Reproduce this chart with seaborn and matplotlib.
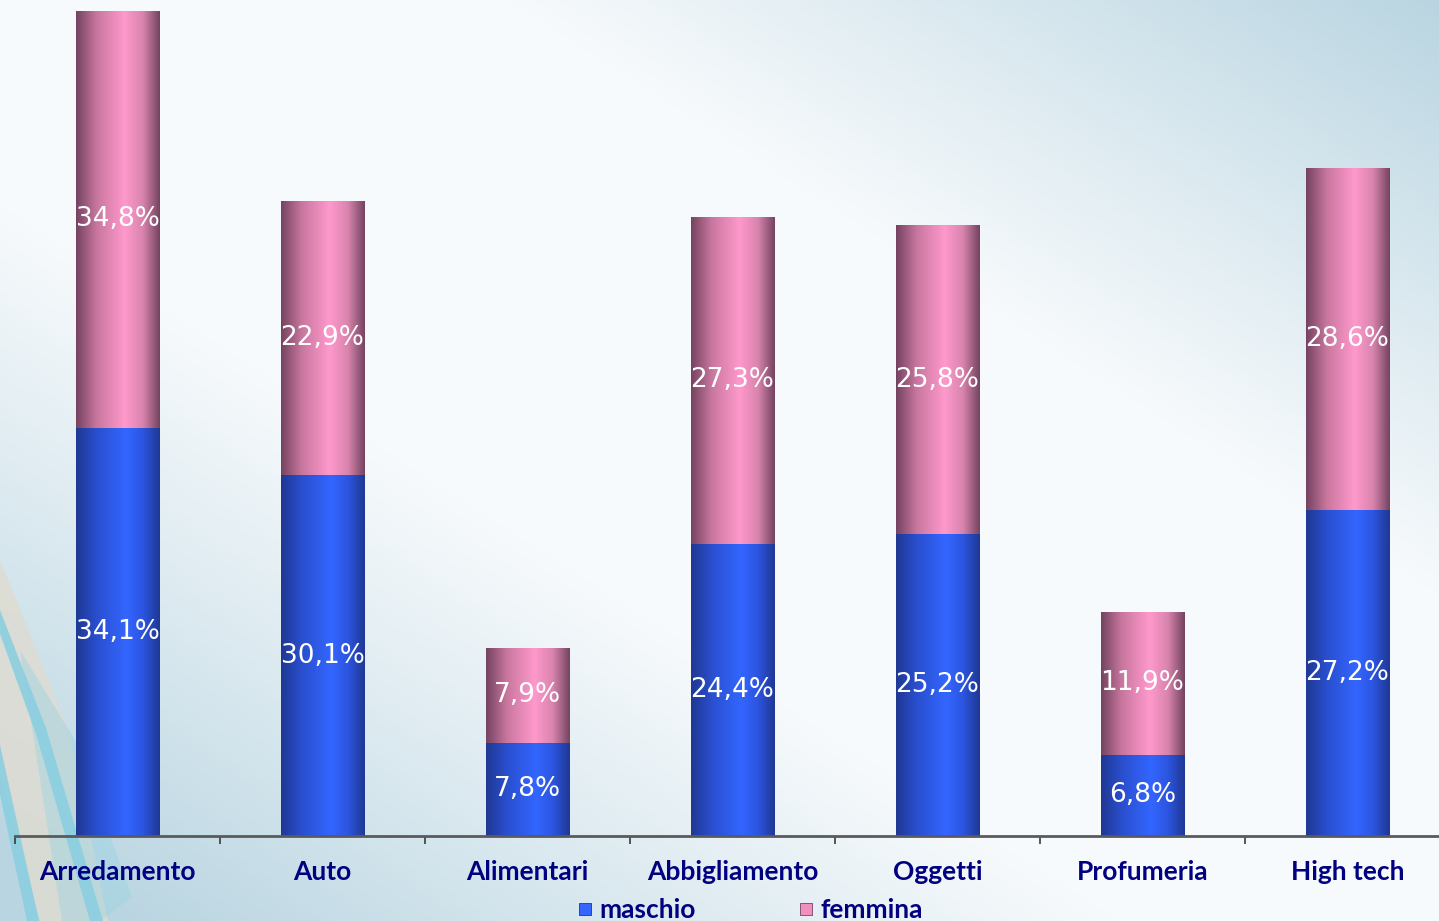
import numpy as np
import pandas as pd
import matplotlib
matplotlib.use("Agg")
import matplotlib.pyplot as plt
import seaborn as sns
from matplotlib.colors import LinearSegmentedColormap
from matplotlib.patches import Polygon
from matplotlib.lines import Line2D

categories = ["Arredamento", "Auto", "Alimentari", "Abbigliamento", "Oggetti", "Profumeria", "High tech"]
maschio = [34.1, 30.1, 7.8, 24.4, 25.2, 6.8, 27.2]
femmina = [34.8, 22.9, 7.9, 27.3, 25.8, 11.9, 28.6]
series_names = ["maschio", "femmina"]

sns.set_theme(style="white")
plt.rcParams['font.family'] = ['Lato', 'DejaVu Sans']

W, H, DPI = 1439, 921, 100
fig = plt.figure(figsize=(W / DPI, H / DPI), dpi=DPI)

# ---- background gradient (pixel coordinates, y down) ----
bg = fig.add_axes([0, 0, 1, 1], zorder=0)
py, px = np.mgrid[0:H:4, 0:W:4]
s = px / W + (1 - py / H)          # 0 bottom-left, 2 top-right
val = np.where(s > 1.35, (s - 1.35) / 0.65, 0.0)
val = np.maximum(val, np.where(s < 0.78, (0.78 - s) / 0.7, 0.0))
val = np.clip(val, 0, 1)
bg_cmap = LinearSegmentedColormap.from_list("bg", ["#f7fafc", "#d9e8ef", "#b9d5e1"])
bg.imshow(val, cmap=bg_cmap, extent=[0, W, H, 0], aspect="auto", vmin=0, vmax=1,
          interpolation="bilinear")
shapes = [
    ([(0, 560), (70, 735), (108, 921), (40, 921), (0, 770)], "#dedcd2", 0.85),
    ([(20, 650), (75, 740), (132, 897), (100, 921), (62, 921)], "#9bd3e3", 0.45),
    ([(0, 610), (46, 728), (103, 921), (90, 921), (36, 734), (0, 634)], "#8ccfe0", 0.9),
    ([(0, 745), (39, 921), (27, 921), (0, 795)], "#8ccfe0", 0.9),
]
for pts, col, a in shapes:
    bg.add_patch(Polygon(pts, closed=True, facecolor=col, alpha=a, edgecolor="none"))
bg.set_xlim(0, W)
bg.set_ylim(H, 0)
bg.axis("off")

# ---- main axes ----
ax = fig.add_axes([15 / W, 1 - 836 / H, (1450 - 15) / W, 836 / H], zorder=1)
ax.patch.set_alpha(0)

df = pd.DataFrame({"cat": categories, "maschio": maschio, "femmina": femmina})
df["total"] = df["maschio"] + df["femmina"]

sns.barplot(data=df, x="cat", y="total", color="#ff99cc", width=0.405, ax=ax, saturation=1, edgecolor="none")
sns.barplot(data=df, x="cat", y="maschio", color="#3366ff", width=0.405, ax=ax, saturation=1, edgecolor="none")

blue_cmap = LinearSegmentedColormap.from_list(
    "b", [(0, "#1f3892"), (0.25, "#2a4fcf"), (0.6, "#3366ff"), (0.8, "#2c55e0"), (1, "#1f3892")])
pink_cmap = LinearSegmentedColormap.from_list(
    "p", [(0, "#744360"), (0.25, "#c9779f"), (0.58, "#ff99cc"), (0.8, "#d884ad"), (1, "#744360")])
grad = np.linspace(0, 1, 256).reshape(1, -1)

n = len(categories)
for i, p in enumerate(list(ax.patches)):
    cmap = pink_cmap if i < n else blue_cmap
    x0, y0 = p.get_x(), p.get_y()
    w, h = p.get_width(), p.get_height()
    im = ax.imshow(grad, cmap=cmap, extent=[x0, x0 + w, y0, y0 + h], aspect="auto", zorder=2)
    im.set_clip_path(p)

def fmt(v):
    return f"{v:.1f}".replace(".", ",") + "%"

for i in range(n):
    m, f = maschio[i], femmina[i]
    ax.text(i, m / 2, fmt(m), ha="center", va="center", color="white",
            fontsize=19, family="DejaVu Sans", zorder=5)
    ax.text(i, m + f / 2, fmt(f), ha="center", va="center", color="white",
            fontsize=19, family="DejaVu Sans", zorder=5)

ax.set_xlim(-0.5, n - 0.5)
ax.set_ylim(0, 69.8)
ax.set_xlabel("")
ax.set_ylabel("")
ax.set_yticks([])
ax.set_xticks(np.arange(n))
ax.set_xticklabels(categories, color="#000080", fontsize=19, fontweight="bold")
ax.set_xticks(np.arange(n + 1) - 0.5, minor=True)
ax.tick_params(axis="x", which="major", bottom=False, length=0, pad=17)
ax.tick_params(axis="x", which="minor", bottom=True, length=6, width=1.2, color="#3a3a3a", direction="out")
for sp in ["top", "right", "left"]:
    ax.spines[sp].set_visible(False)
ax.spines["bottom"].set_color("#5a5a5a")
ax.spines["bottom"].set_linewidth(2)
ax.spines["bottom"].set_zorder(6)
ax.grid(False)

# ---- legend ----
handles = [Line2D([], [], marker="s", linestyle="none", markersize=9, markerfacecolor="#3366ff", markeredgecolor="#1f3892", markeredgewidth=0.6),
           Line2D([], [], marker="s", linestyle="none", markersize=9, markerfacecolor="#f08fc0", markeredgecolor="#744360", markeredgewidth=0.6)]
fig.legend(handles, series_names, loc="center", bbox_to_anchor=(750 / W, 1 - 910 / H), ncol=2,
           frameon=False, handlelength=0.6, handletextpad=0.25, columnspacing=3.9,
           prop={"weight": "bold", "size": 19, "family": "Lato"}, labelcolor="#000080",
           borderpad=0, borderaxespad=0)

fig.savefig("out.png", dpi=DPI)
